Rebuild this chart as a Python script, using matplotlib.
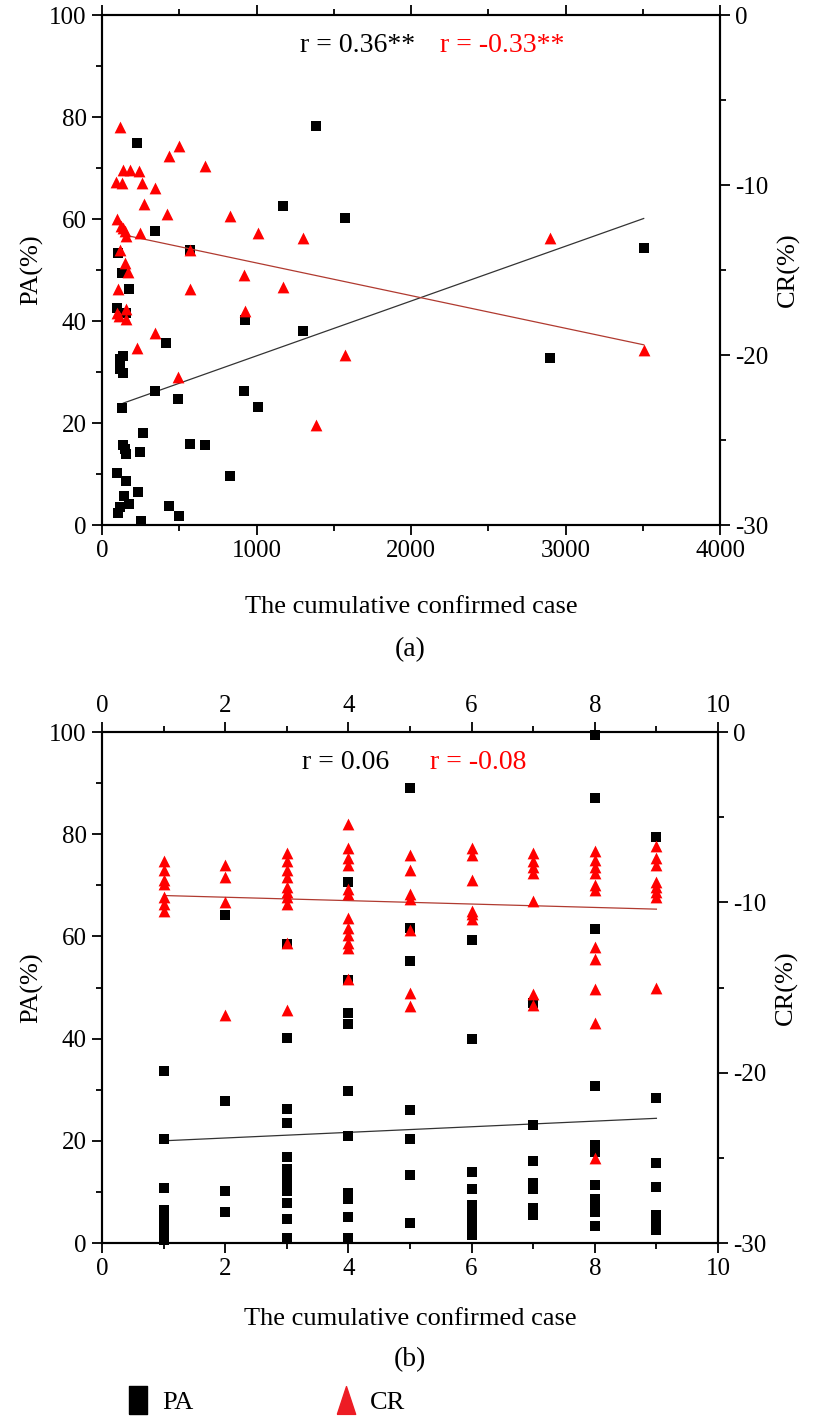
import numpy as np
import matplotlib.pyplot as plt
from matplotlib.lines import Line2D
from matplotlib.ticker import MultipleLocator

plt.rcParams['font.family'] = ['Liberation Serif', 'DejaVu Serif']
plt.rcParams['axes.unicode_minus'] = False

# panel (a): cumulative confirmed cases vs PA / CR
a_pa_x = [229, 1169, 346, 571, 106, 128, 173, 95, 156, 923, 1301, 417, 117, 138, 117, 138,
          346, 491, 921, 1010, 128, 268, 138, 149, 156, 246, 571, 668, 830, 99, 156, 235,
          143, 177, 117, 106, 432, 499, 253, 1388, 1576, 3506, 2897]
a_pa_y = [75.0, 62.5, 57.7, 53.9, 53.4, 49.5, 46.3, 42.5, 41.5, 40.1, 38.1, 35.6, 32.5, 33.1, 30.5, 29.9,
          26.3, 24.8, 26.3, 23.1, 22.9, 18.0, 15.7, 15.0, 13.9, 14.4, 15.8, 15.6, 9.6, 10.1, 8.7, 6.4,
          5.6, 4.2, 3.6, 2.3, 3.8, 1.8, 0.8, 78.2, 60.1, 54.4, 32.8]
a_cr_x = [117, 499, 432, 668, 138, 181, 240, 89, 131, 257, 344, 272, 419, 830, 95, 121, 138,
          149, 156, 246, 1010, 1299, 571, 117, 149, 171, 921, 106, 571, 1172, 156, 95, 112,
          156, 923, 346, 225, 491, 2897, 1576, 1388, 3506]
a_cr_y = [-6.6, -7.7, -8.3, -8.9, -9.1, -9.1, -9.2, -9.8, -9.9, -9.9, -10.2, -11.1, -11.7, -11.8, -12.0, -12.4, -12.5,
          -12.7, -13.0, -12.8, -12.8, -13.1, -13.8, -13.8, -14.6, -15.1, -15.3, -16.1, -16.1, -16.0, -17.3, -17.5, -17.7,
          -17.9, -17.4, -18.7, -19.6, -21.3, -13.1, -20.0, -24.1, -19.7]
# linear fits as drawn in the figure (start, end)
a_fit_pa_x = [138, 3506]
a_fit_pa_y = [23.9, 60.1]
a_fit_cr_x = [149, 3506]
a_fit_cr_y = [-12.95, -19.4]

# panel (b): values grouped by x = 1..9
b_pa = {
    1: [33.7, 20.4, 10.8, 6.5, 5.5, 4.5, 3.5, 2.5, 1.5, 0.5],
    2: [64.1, 27.7, 10.2, 6.1],
    3: [58.6, 40.2, 26.3, 23.5, 16.8, 14.5, 13.0, 11.5, 10.2, 7.8, 4.6, 0.9],
    4: [70.6, 51.5, 45.1, 42.9, 29.7, 20.9, 9.7, 8.7, 5.0, 0.9],
    5: [89.0, 61.6, 55.2, 26.0, 20.4, 13.3, 3.9],
    6: [59.3, 39.9, 13.8, 10.5, 7.5, 6.0, 4.5, 3.0, 1.5],
    7: [46.9, 23.0, 16.0, 11.8, 10.5, 6.8, 5.5],
    8: [99.5, 87.0, 61.4, 30.7, 19.2, 17.9, 11.4, 8.7, 7.8, 6.1, 3.3],
    9: [79.5, 28.4, 15.7, 11.0, 5.5, 4.5, 3.5, 2.5],
}
b_cr = {
    1: [-7.6, -8.1, -8.7, -8.9, -9.7, -10.1, -10.5],
    2: [-7.8, -8.5, -10.0, -16.6],
    3: [-7.1, -7.6, -8.1, -8.5, -9.1, -9.4, -9.7, -10.1, -12.4, -16.3],
    4: [-5.4, -6.8, -7.4, -7.8, -9.2, -9.5, -10.9, -11.5, -11.9, -12.4, -12.7, -14.5],
    5: [-7.2, -8.1, -9.5, -9.8, -11.6, -15.3, -16.1],
    6: [-6.8, -7.2, -8.7, -10.5, -10.7, -11.0],
    7: [-7.1, -7.6, -7.9, -8.3, -9.9, -15.4, -16.0],
    8: [-7.0, -7.5, -7.9, -8.3, -9.0, -9.3, -12.6, -13.3, -15.1, -17.1, -25.0],
    9: [-6.7, -7.4, -7.8, -8.8, -9.1, -9.4, -9.7, -15.0],
}
b_fit_x = [1, 9]
b_fit_pa_y = [20.0, 24.4]
b_fit_cr_y = [-9.6, -10.4]

b_pa_x = [k for k, v in b_pa.items() for _ in v]
b_pa_y = [y for v in b_pa.values() for y in v]
b_cr_x = [k for k, v in b_cr.items() for _ in v]
b_cr_y = [y for v in b_cr.values() for y in v]

W, H = 816, 1426
fig = plt.figure(figsize=(W / 100, H / 100), dpi=100)

TICK = 18
LAB = 19
BIG = 20


def style(ax, ax2, xmax, xmaj, xmin):
    for a in (ax, ax2):
        for s in a.spines.values():
            s.set_linewidth(1.5)
    ax.set_ylim(0, 100)
    ax2.set_ylim(-30, 0)
    ax.set_xlim(0, xmax)
    ax.xaxis.set_major_locator(MultipleLocator(xmaj))
    ax.xaxis.set_minor_locator(MultipleLocator(xmin))
    ax.yaxis.set_major_locator(MultipleLocator(20))
    ax.yaxis.set_minor_locator(MultipleLocator(10))
    ax2.yaxis.set_major_locator(MultipleLocator(10))
    ax2.yaxis.set_minor_locator(MultipleLocator(5))
    for a in (ax, ax2):
        a.tick_params(which='major', direction='out', length=7, width=1.3, labelsize=TICK, pad=4)
        a.tick_params(which='minor', direction='out', length=4, width=1.3)
    ax.set_ylabel('PA(%)', fontsize=LAB, labelpad=4)
    ax2.set_ylabel('CR(%)', fontsize=LAB, labelpad=6)
    ax.set_xlabel('The cumulative confirmed case', fontsize=LAB, labelpad=24)


# ---- (a)
axa = fig.add_axes([102 / W, 1 - 525 / H, 618 / W, 510 / H])
axa2 = axa.twinx()
style(axa, axa2, 4000, 1000, 500)
axa.tick_params(which='both', top=True)
axa.scatter(a_pa_x, a_pa_y, marker='s', s=56, color='black', linewidths=0, zorder=3)
axa2.scatter(a_cr_x, a_cr_y, marker='^', s=72, color='red', linewidths=0, zorder=3)
axa.plot(a_fit_pa_x, a_fit_pa_y, color='#333333', lw=0.9, zorder=1)
axa2.plot(a_fit_cr_x, a_fit_cr_y, color='#b03a30', lw=0.9, zorder=1)
axa.text(0.32, 0.94, 'r = 0.36**', transform=axa.transAxes, fontsize=BIG, va='center')
axa.text(0.547, 0.94, 'r = -0.33**', transform=axa.transAxes, fontsize=BIG, va='center', color='red')
fig.text(410 / W, 1 - 650 / H, '(a)', ha='center', va='center', fontsize=BIG)

# ---- (b)
axb = fig.add_axes([102 / W, 1 - 1243 / H, 616 / W, 511 / H])
axb2 = axb.twinx()
style(axb, axb2, 10, 2, 1)
axb.xaxis.labelpad = 20
axb.tick_params(which='both', top=True, labeltop=True)
axb.scatter(b_pa_x, b_pa_y, marker='s', s=56, color='black', linewidths=0, zorder=3, clip_on=False)
axb2.scatter(b_cr_x, b_cr_y, marker='^', s=72, color='red', linewidths=0, zorder=3)
axb.plot(b_fit_x, b_fit_pa_y, color='#333333', lw=0.9, zorder=1)
axb2.plot(b_fit_x, b_fit_cr_y, color='#b03a30', lw=0.9, zorder=1)
axb.text(0.325, 0.94, 'r = 0.06', transform=axb.transAxes, fontsize=BIG, va='center')
axb.text(0.532, 0.94, 'r = -0.08', transform=axb.transAxes, fontsize=BIG, va='center', color='red')
fig.text(410 / W, 1 - 1360 / H, '(b)', ha='center', va='center', fontsize=BIG)

# ---- shared legend
rect = [(-0.33, -0.5), (0.33, -0.5), (0.33, 0.5), (-0.33, 0.5), (-0.33, -0.5)]
tri = [(-0.33, -0.5), (0.33, -0.5), (0, 0.5), (-0.33, -0.5)]
h_pa = Line2D([], [], ls='none', marker=rect, ms=20, color='black')
h_cr = Line2D([], [], ls='none', marker=tri, ms=20, color='#ed1c24')
for h, lab, x0 in [(h_pa, 'PA', 125), (h_cr, 'CR', 333)]:
    fig.legend([h], [lab], loc='center left', bbox_to_anchor=(x0 / W, 1 - 1402 / H),
               frameon=False, fontsize=LAB, handlelength=1.0, handletextpad=0.4,
               borderpad=0, borderaxespad=0)

fig.savefig('out.png', dpi=100)
